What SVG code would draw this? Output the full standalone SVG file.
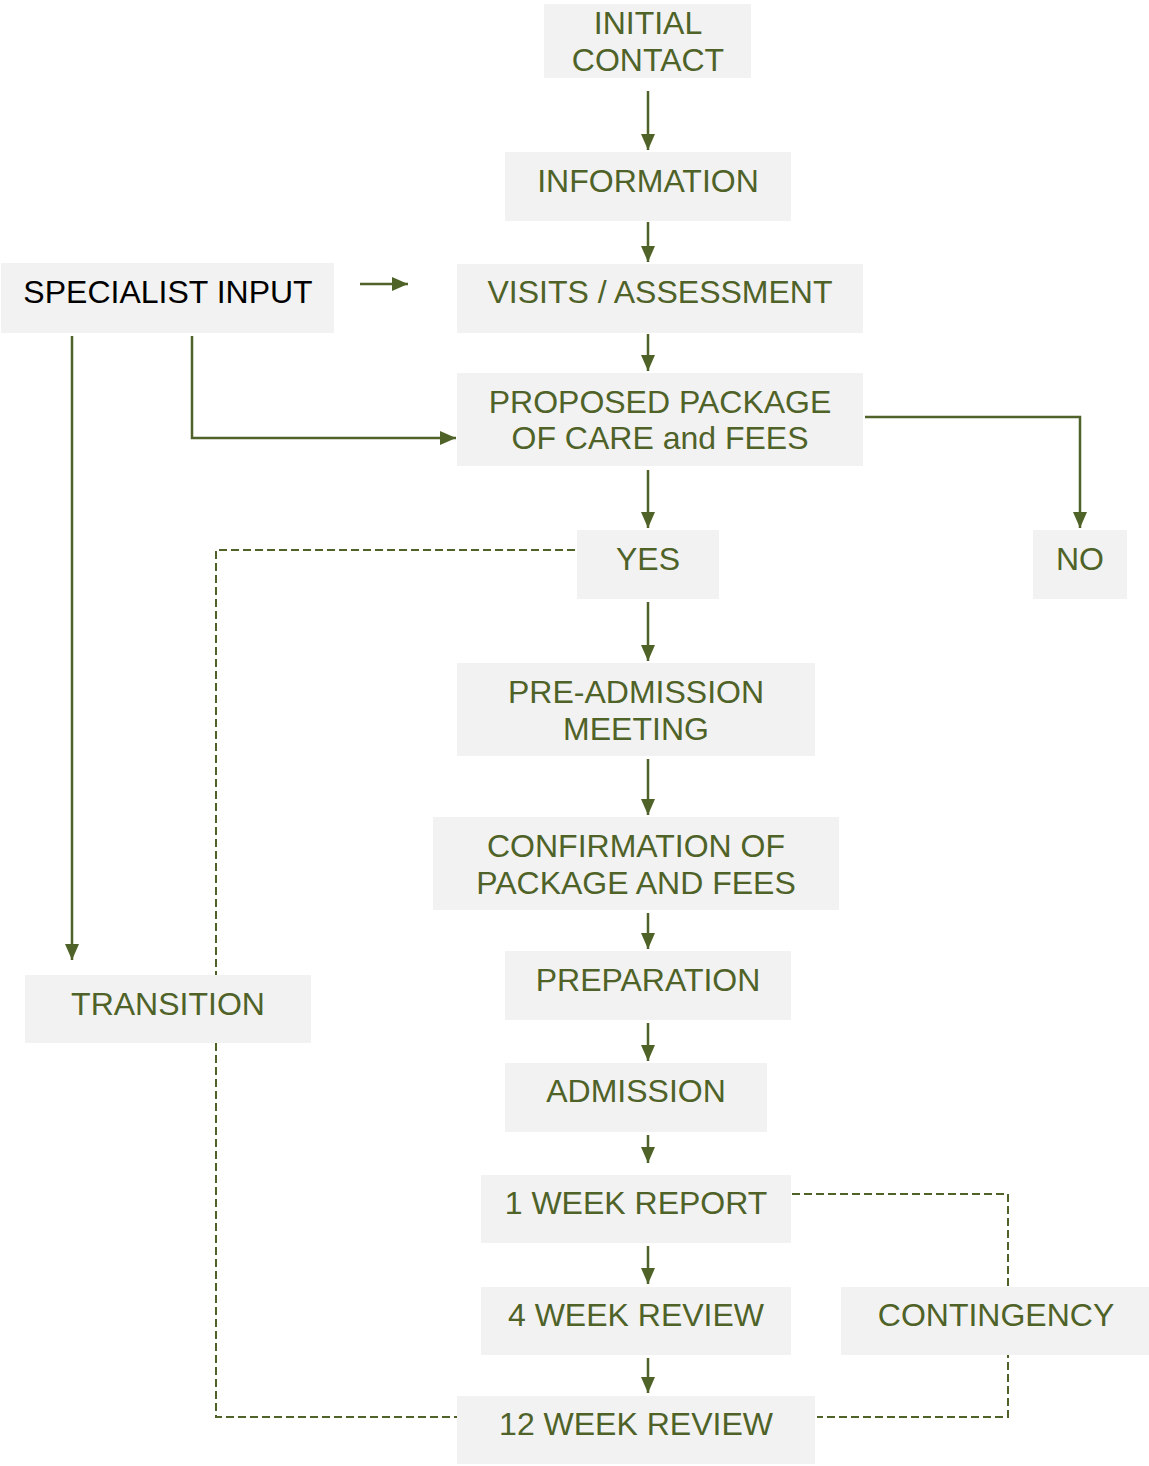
<svg xmlns="http://www.w3.org/2000/svg" width="1149" height="1466" viewBox="0 0 1149 1466">
<style>
.box{fill:#f2f2f2}
.t{font-family:"Liberation Sans",Arial,sans-serif;font-size:32px;fill:#4f6228;text-anchor:middle}
.k{fill:#000}
.a{stroke:#4f6228;stroke-width:2.5;fill:none;marker-end:url(#ah)}
.s{stroke:#4f6228;stroke-width:2.5;fill:none}
.d{stroke:#4f6228;stroke-width:2;fill:none;stroke-dasharray:8,4}
</style>
<defs>
<marker id="ah" viewBox="0 0 16 14" refX="16" refY="7" markerWidth="16" markerHeight="14" markerUnits="userSpaceOnUse" orient="auto"><path d="M0,0 L16,7 L0,14 z" fill="#4f6228"/></marker>
</defs>
<g id="connectors">
<path class="d" d="M575,550 H216 V1417 H457"/>
<path class="d" d="M792,1194 H1008 V1417 H817"/>
<line class="a" x1="648" y1="91" x2="648" y2="150"/>
<line class="a" x1="648" y1="222" x2="648" y2="262"/>
<line class="a" x1="648" y1="334" x2="648" y2="371"/>
<line class="a" x1="648" y1="470" x2="648" y2="528"/>
<line class="a" x1="648" y1="602" x2="648" y2="661"/>
<line class="a" x1="648" y1="759" x2="648" y2="815"/>
<line class="a" x1="648" y1="913" x2="648" y2="949"/>
<line class="a" x1="648" y1="1023" x2="648" y2="1061"/>
<line class="a" x1="648" y1="1135" x2="648" y2="1163"/>
<line class="a" x1="648" y1="1246" x2="648" y2="1284"/>
<line class="a" x1="648" y1="1358" x2="648" y2="1393"/>
<line class="a" x1="360" y1="284" x2="408" y2="284"/>
<path class="a" d="M192,336 V438 H456"/>
<path class="a" d="M865,417 H1080 V528"/>
<line class="a" x1="72" y1="336" x2="72" y2="960"/>
</g>
<g id="n-initial"><rect class="box" x="544" y="4" width="207" height="74"/><text class="t" x="648" y="34">INITIAL</text><text class="t" x="648" y="71">CONTACT</text></g>
<g id="n-information"><rect class="box" x="505" y="152" width="286" height="69"/><text class="t" x="648" y="192">INFORMATION</text></g>
<g id="n-visits"><rect class="box" x="457" y="264" width="406" height="69"/><text class="t" x="660" y="303">VISITS / ASSESSMENT</text></g>
<g id="n-specialist"><rect class="box" x="1" y="263" width="333" height="70"/><text class="t k" x="168" y="303">SPECIALIST INPUT</text></g>
<g id="n-proposed"><rect class="box" x="457" y="373" width="406" height="93"/><text class="t" x="660" y="413">PROPOSED PACKAGE</text><text class="t" x="660" y="449">OF CARE and FEES</text></g>
<g id="n-yes"><rect class="box" x="577" y="530" width="142" height="69"/><text class="t" x="648" y="570">YES</text></g>
<g id="n-no"><rect class="box" x="1033" y="530" width="94" height="69"/><text class="t" x="1080" y="570">NO</text></g>
<g id="n-preadmission"><rect class="box" x="457" y="663" width="358" height="93"/><text class="t" x="636" y="703">PRE-ADMISSION</text><text class="t" x="636" y="740">MEETING</text></g>
<g id="n-confirmation"><rect class="box" x="433" y="817" width="406" height="93"/><text class="t" x="636" y="857">CONFIRMATION OF</text><text class="t" x="636" y="894">PACKAGE AND FEES</text></g>
<g id="n-preparation"><rect class="box" x="505" y="951" width="286" height="69"/><text class="t" x="648" y="991">PREPARATION</text></g>
<g id="n-admission"><rect class="box" x="505" y="1063" width="262" height="69"/><text class="t" x="636" y="1102">ADMISSION</text></g>
<g id="n-week1"><rect class="box" x="481" y="1175" width="310" height="68"/><text class="t" x="636" y="1214">1 WEEK REPORT</text></g>
<g id="n-week4"><rect class="box" x="481" y="1287" width="310" height="68"/><text class="t" x="636" y="1326">4 WEEK REVIEW</text></g>
<g id="n-week12"><rect class="box" x="457" y="1396" width="358" height="68"/><text class="t" x="636" y="1435">12 WEEK REVIEW</text></g>
<g id="n-contingency"><rect class="box" x="841" y="1287" width="308" height="68"/><text class="t" x="996" y="1326">CONTINGENCY</text></g>
<g id="n-transition"><rect class="box" x="25" y="975" width="286" height="68"/><text class="t" x="168" y="1015">TRANSITION</text></g>
</svg>
